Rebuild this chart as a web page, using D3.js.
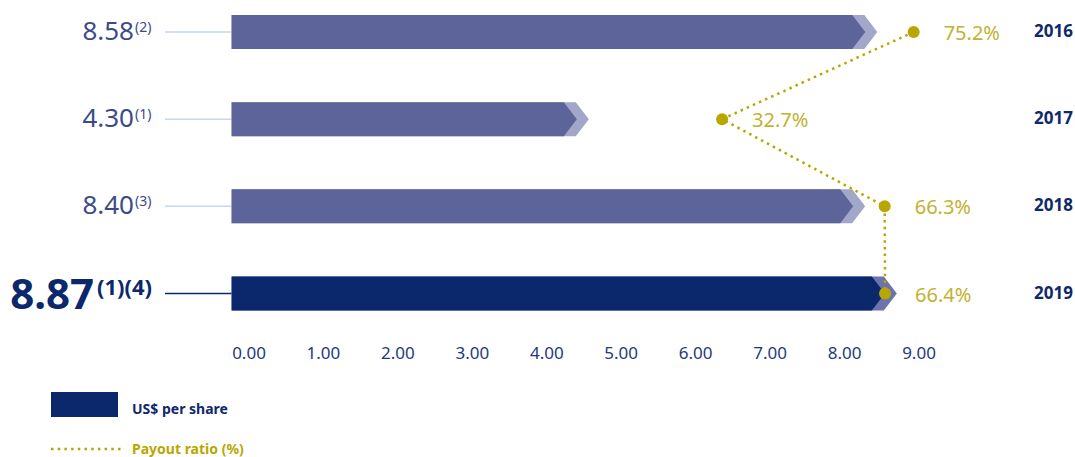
<!DOCTYPE html>
<html>
<head>
<meta charset="utf-8">
<script src="https://cdn.jsdelivr.net/npm/d3@7"></script>
<style>
  html, body { margin: 0; padding: 0; background: #fff; }
  svg { display: block; font-family: "Noto Sans", "Open Sans", sans-serif; }
</style>
</head>
<body>
<svg id="chart" width="1075" height="457"></svg>
<script>
// Dividends per share and payout ratio, 2016–2019
const years = ["2016", "2017", "2018", "2019"];
const dividends = [8.58, 4.30, 8.40, 8.87];
const notes = ["(2)", "(1)", "(3)", "(1)(4)"];
const payout = [75.2, 32.7, 66.3, 66.4];
const tickLabels = ["0.00", "1.00", "2.00", "3.00", "4.00", "5.00", "6.00", "7.00", "8.00", "9.00"];

const svg = d3.select("#chart");

const y = d3.scalePoint().domain(years).range([32, 293.5]);
const barH = 34;
// bars begin at the left origin of the value scale
const x = d3.scaleLinear().domain([-1, 9]).range([231.6, 905.6]);
const tickX = d3.scaleLinear().domain([0, tickLabels.length - 1]).range([249, 919]);
const px = d3.scaleLog().domain([30, 80]).range([702.3, 927.9]);

const colors = {
  bar: "#5c6499", chevron: "#a2a6c9",
  barLast: "#0b286c", chevronLast: "#6d74ab",
  leader: "#c5d8ec", value: "#3c4a8a",
  navy: "#10296b", olive: "#b8a700", oliveText: "#c2b232"
};

const rows = years.map((yr, i) => ({ year: yr, value: dividends[i], note: notes[i], payout: payout[i], last: i === years.length - 1 }));

// leader lines
svg.selectAll("line.leader").data(rows).join("line")
  .attr("x1", 165).attr("x2", x(-1))
  .attr("y1", d => y(d.year)).attr("y2", d => y(d.year))
  .attr("stroke", d => d.last ? colors.barLast : colors.leader)
  .attr("stroke-width", 1.5);

// arrow-shaped bars: light chevron behind, solid bar in front
const depth = 13, inset = 12;
function arrow(x0, tip, cy) {
  const t = cy - barH / 2, b = cy + barH / 2;
  return `M${x0},${t}L${tip - depth},${t}L${tip},${cy}L${tip - depth},${b}L${x0},${b}Z`;
}
svg.selectAll("path.chev").data(rows).join("path")
  .attr("d", d => arrow(x(-1), x(d.value), y(d.year)))
  .attr("fill", d => d.last ? colors.chevronLast : colors.chevron);
svg.selectAll("path.bar").data(rows).join("path")
  .attr("d", d => arrow(x(-1), x(d.value) - inset, y(d.year)))
  .attr("fill", d => d.last ? colors.barLast : colors.bar);

// value labels with footnote markers
const vl = svg.selectAll("g.vlabel").data(rows).join("g")
  .attr("transform", d => d.last ? `translate(94,${y(d.year) + 15})` : `translate(134,${y(d.year) + 8})`);
vl.append("text")
  .attr("text-anchor", "end")
  .attr("font-size", d => d.last ? 42 : 26)
  .attr("font-weight", d => d.last ? 700 : 400)
  .attr("fill", d => d.last ? colors.barLast : colors.value)
  .text(d => d.value.toFixed(2));
vl.append("text")
  .attr("x", d => d.last ? 3 : 1)
  .attr("y", d => d.last ? -14 : -8)
  .attr("font-size", d => d.last ? 22 : 14)
  .attr("font-weight", d => d.last ? 700 : 400)
  .attr("fill", d => d.last ? colors.barLast : colors.value)
  .text(d => d.note);

// year labels
svg.selectAll("text.year").data(rows).join("text")
  .attr("x", 1073).attr("y", d => y(d.year) + 5)
  .attr("text-anchor", "end")
  .attr("font-size", 17).attr("font-weight", 700)
  .attr("fill", colors.navy)
  .text(d => d.year);

// axis tick labels
svg.selectAll("text.tick").data(tickLabels).join("text")
  .attr("x", (d, i) => tickX(i)).attr("y", 359)
  .attr("text-anchor", "middle")
  .attr("font-size", 17)
  .attr("fill", "#1d3a7c")
  .text(d => d);

// payout ratio line
const line = d3.line().x(d => px(d.payout)).y(d => y(d.year));
svg.append("path")
  .attr("d", line(rows))
  .attr("fill", "none")
  .attr("stroke", colors.olive)
  .attr("stroke-width", 2.5)
  .attr("stroke-dasharray", "2.5 4.2");
svg.selectAll("circle.pt").data(rows).join("circle")
  .attr("cx", d => px(d.payout)).attr("cy", d => y(d.year))
  .attr("r", 6).attr("fill", colors.olive);
svg.selectAll("text.pct").data(rows).join("text")
  .attr("x", d => px(d.payout) + 30).attr("y", d => y(d.year) + 8)
  .attr("font-size", 20)
  .attr("fill", colors.oliveText)
  .text(d => d.payout.toFixed(1) + "%");

// legend
svg.append("rect").attr("x", 51).attr("y", 392).attr("width", 67).attr("height", 25).attr("fill", colors.barLast);
svg.append("text").attr("x", 132).attr("y", 414).attr("font-size", 14).attr("font-weight", 700)
  .attr("fill", colors.navy).text("US$ per share");
svg.append("line").attr("x1", 51).attr("x2", 121).attr("y1", 449).attr("y2", 449)
  .attr("stroke", colors.olive).attr("stroke-width", 2.5).attr("stroke-dasharray", "2.5 4.2");
svg.append("text").attr("x", 132).attr("y", 454).attr("font-size", 14).attr("font-weight", 700)
  .attr("fill", colors.olive).text("Payout ratio (%)");
</script>
</body>
</html>
